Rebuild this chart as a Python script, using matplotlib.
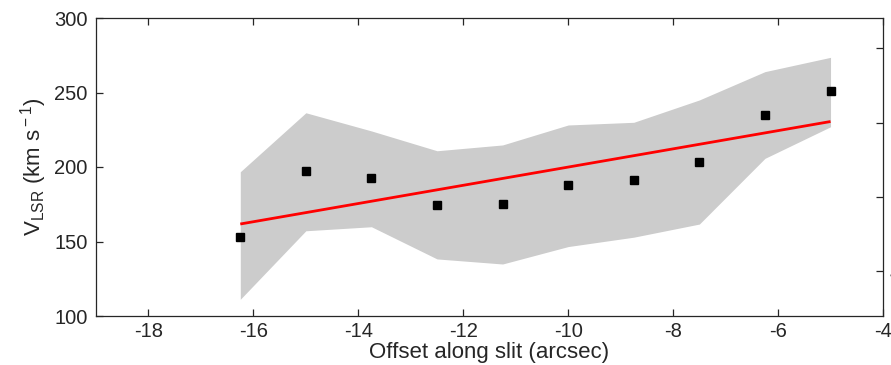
import numpy as np
import matplotlib
matplotlib.use("Agg")
import matplotlib.pyplot as plt

plt.rcParams['font.family'] = ['Liberation Sans', 'DejaVu Sans']
plt.rcParams['mathtext.fontset'] = 'custom'
plt.rcParams['mathtext.rm'] = 'Liberation Sans'
plt.rcParams['mathtext.it'] = 'Liberation Sans'

# Offsets along the slit (arcsec) and measured LSR velocities (km/s)
offset = [-16.25, -15.0, -13.75, -12.5, -11.25, -10.0, -8.75, -7.5, -6.25, -5.0]
velocity = [153.2, 197.1, 192.4, 174.7, 175.2, 188.1, 191.5, 203.6, 234.7, 250.8]
# Envelope of the velocity range at each offset
vel_upper = [196.8, 236.4, 224.2, 210.9, 214.8, 228.2, 230.0, 245.0, 264.0, 273.6]
vel_lower = [111.2, 157.2, 159.9, 138.3, 134.9, 146.6, 152.9, 161.7, 205.8, 227.0]

xticks = [-18, -16, -14, -12, -10, -8, -6, -4]
yticks = [100, 150, 200, 250, 300]
right_ticks = [4, 6, 8, 10]

text_col = '#262626'
tick_fs = 14.5
label_fs = 16

fig = plt.figure(figsize=(8.91, 3.65), dpi=100)
ax = fig.add_axes([96 / 891, 49 / 365, 787 / 891, 298 / 365])

ax.fill_between(offset, vel_lower, vel_upper, color='#cccccc', lw=0, zorder=1)

slope, icpt = np.polyfit(offset, velocity, 1)
xs = np.array([offset[0], offset[-1]])
ax.plot(xs, slope * xs + icpt, color='red', lw=2.0, zorder=2, solid_capstyle='butt')

ax.plot(offset, velocity, 's', color='black', ms=6.3, zorder=3)

ax.set_xlim(-19, -4)
ax.set_ylim(100, 300)
ax.set_xticks(xticks)
ax.set_yticks(yticks)
ax.set_xticklabels([str(t) for t in xticks])
ax.tick_params(axis='x', direction='in', length=5, width=0.9, top=True,
               labelsize=tick_fs, colors=text_col, pad=4)
ax.tick_params(axis='y', direction='in', length=5, width=0.9, right=False,
               labelsize=tick_fs, colors=text_col, pad=6)
for s in ax.spines.values():
    s.set_color(text_col)
    s.set_linewidth(0.9)

ax.set_xlabel('Offset along slit (arcsec)', fontsize=label_fs, color=text_col, labelpad=1)
ax.set_ylabel(r'V$_{\rm LSR}$ (km s$^{\rm -1}$)', fontsize=label_fs, color=text_col, labelpad=4)

# secondary scale on the right-hand side
ax2 = ax.twinx()
ax2.set_ylim(2.79, 10.82)
ax2.set_yticks(right_ticks)
ax2.tick_params(axis='y', direction='in', length=5, width=0.9,
                labelsize=tick_fs, colors=text_col, pad=5)
for s in ax2.spines.values():
    s.set_visible(False)

fig.savefig('out.png', dpi=100, facecolor='white')
